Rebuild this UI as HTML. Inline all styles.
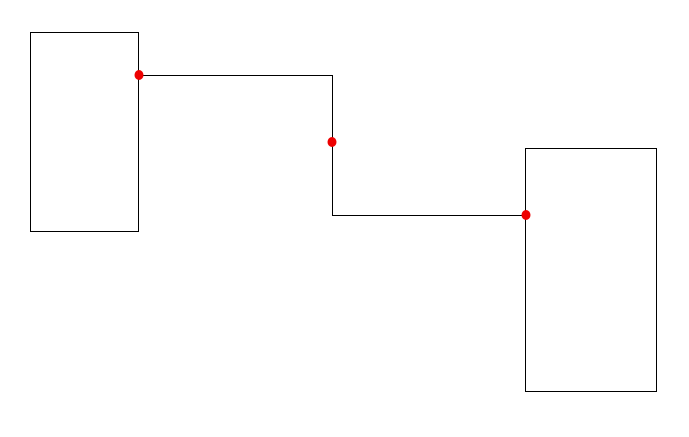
<!DOCTYPE html>
<html><head><style>html,body{margin:0;padding:0;background:#fff;width:689px;height:437px;overflow:hidden}</style></head>
<body>
<svg width="689" height="437" xmlns="http://www.w3.org/2000/svg">
<rect x="30.5" y="32.5" width="108" height="199" fill="#fff" stroke="#000" stroke-width="1"/>
<rect x="525.5" y="148.5" width="131" height="243" fill="#fff" stroke="#000" stroke-width="1"/>
<polyline points="139,75.5 332.5,75.5 332.5,215.5 525,215.5" fill="none" stroke="#000" stroke-width="1"/>
<ellipse cx="139" cy="75" rx="4.5" ry="5" fill="#e00"/>
<ellipse cx="332" cy="142" rx="4.5" ry="5" fill="#e00"/>
<ellipse cx="526" cy="215" rx="4.5" ry="5" fill="#e00"/>
</svg>
</body></html>
